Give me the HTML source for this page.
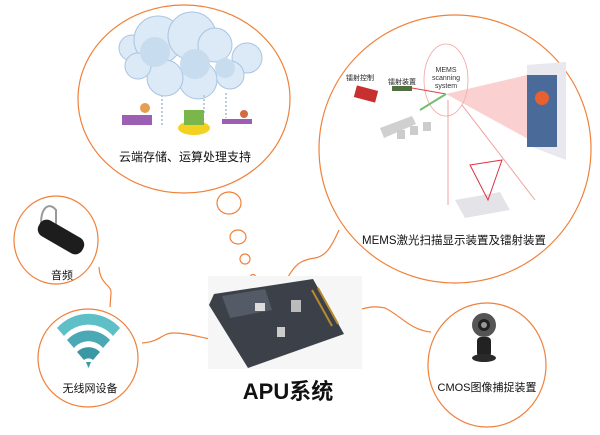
<!DOCTYPE html>
<html><head><meta charset="utf-8"><style>
html,body{margin:0;padding:0;background:#fff;}
body{width:600px;height:435px;position:relative;overflow:hidden;font-family:"Liberation Sans","Noto Sans CJK SC",sans-serif;}
.t{position:absolute;white-space:nowrap;transform:translateX(-50%);color:#111;}
</style></head><body>
<svg width="600" height="435" style="position:absolute;left:0;top:0">
<g fill="none" stroke="#f0813a" stroke-width="1.2">
<ellipse cx="184" cy="99" rx="106" ry="94"/>
<ellipse cx="455" cy="149" rx="136" ry="134"/>
<ellipse cx="229" cy="203" rx="12" ry="11"/>
<ellipse cx="238" cy="237" rx="8" ry="7"/>
<ellipse cx="245" cy="259" rx="5" ry="5"/>
<ellipse cx="253" cy="277" rx="2.5" ry="2.5"/>
<ellipse cx="56" cy="240" rx="42" ry="44"/>
<ellipse cx="88" cy="358" rx="50" ry="49"/>
<ellipse cx="487" cy="365" rx="59" ry="62"/>
<path d="M339 230 C330 250 325 256 315 258 C300 260 295 265 288 277"/>
<path d="M99 267 C100 285 112 285 111 293 L110 307"/>
<path d="M142 343 C160 342 162 333 173 333 C190 333 200 338 217 340"/>
<path d="M352 312 C370 306 375 306 385 308 C400 315 410 330 431 332"/>
</g>
<!-- cloud -->
<g fill="#dce9f6" stroke="#a9c4e2" stroke-width="1">
<circle cx="132" cy="48" r="13"/><circle cx="158" cy="40" r="24"/><circle cx="192" cy="36" r="24"/>
<circle cx="215" cy="45" r="17"/><circle cx="247" cy="58" r="15"/><circle cx="230" cy="75" r="14"/>
<circle cx="198" cy="80" r="19"/><circle cx="165" cy="78" r="18"/><circle cx="138" cy="66" r="13"/>
</g>
<g fill="#c8dcf0"><circle cx="155" cy="52" r="15"/><circle cx="195" cy="64" r="15"/><circle cx="225" cy="68" r="10"/></g>
<g stroke="#b8cde4" stroke-dasharray="2 2" stroke-width="2"><line x1="162" y1="95" x2="162" y2="125"/><line x1="204" y1="95" x2="204" y2="115"/><line x1="226" y1="93" x2="226" y2="118"/></g>
<rect x="122" y="115" width="30" height="10" fill="#9c5fb4"/><circle cx="145" cy="108" r="5" fill="#e4a050"/>
<ellipse cx="194" cy="128" rx="16" ry="7" fill="#f4d020"/><rect x="184" y="110" width="20" height="15" fill="#7ab64a"/>
<rect x="222" y="119" width="30" height="5" fill="#9c5fb4"/><circle cx="244" cy="114" r="4" fill="#d46a40"/>
<!-- MEMS -->
<ellipse cx="446" cy="80" rx="22" ry="36" fill="none" stroke="#f4a0a0" stroke-width="0.8"/>
<text x="446" y="72" font-size="7" text-anchor="middle" fill="#333">MEMS</text>
<text x="446" y="80" font-size="7" text-anchor="middle" fill="#333">scanning</text>
<text x="446" y="88" font-size="7" text-anchor="middle" fill="#333">system</text>
<text x="346" y="80" font-size="7" fill="#222">镭射控制</text>
<text x="388" y="84" font-size="7" fill="#222">镭射装置</text>
<polygon points="446,94 527,75 530,140" fill="#f6b0b0" opacity="0.6"/>
<polygon points="527,65 566,62 566,160 527,145" fill="#e8e8ee"/>
<rect x="527" y="75" width="30" height="72" fill="#4a6a9a"/>
<circle cx="542" cy="98" r="7" fill="#e86030"/>
<rect x="355" y="88" width="22" height="12" fill="#c83030" transform="rotate(15 366 94)"/>
<rect x="392" y="86" width="20" height="5" fill="#507040"/>
<line x1="412" y1="88" x2="446" y2="94" stroke="#e04040"/>
<line x1="420" y1="110" x2="446" y2="94" stroke="#70c070" stroke-width="2"/>
<polygon points="380,128 412,116 416,124 384,138" fill="#d0d0d0"/>
<rect x="397" y="130" width="8" height="9" fill="#ccc"/><rect x="410" y="126" width="8" height="9" fill="#ccc"/><rect x="423" y="122" width="8" height="9" fill="#ccc"/>
<line x1="448" y1="100" x2="448" y2="205" stroke="#f0a0a0"/>
<line x1="462" y1="105" x2="535" y2="200" stroke="#f0a0a0"/>
<polygon points="455,200 500,192 510,210 465,218" fill="#e4e4e8"/>
<polygon points="470,165 488,200 502,160" fill="none" stroke="#e03040"/>
<!-- earpiece -->
<path d="M42 232 C38 210 48 200 56 210 L56 232" fill="none" stroke="#999" stroke-width="2"/>
<rect x="36" y="228" width="50" height="18" rx="8" fill="#1d1d1d" transform="rotate(30 61 237)"/>
<!-- wifi -->
<g fill="#5fbfc6">
<path d="M57 328 A42 42 0 0 1 120 328 L113 336 A32 32 0 0 0 64 336Z"/>
<path d="M67 340 A29 29 0 0 1 110 340 L103 348 A19 19 0 0 0 74 348Z" fill="#4aa9b4"/>
<path d="M77 352 A16 16 0 0 1 100 352 L93 360 A7 7 0 0 0 84 360Z" fill="#3b97a4"/>
<polygon points="86,362 91,362 88.5,368" fill="#3b97a4"/>
</g>
<!-- camera -->
<circle cx="484" cy="325" r="12" fill="#555"/><circle cx="484" cy="325" r="6" fill="#222"/><circle cx="484" cy="325" r="3" fill="#999"/>
<rect x="477" y="337" width="14" height="20" rx="4" fill="#222"/>
<ellipse cx="484" cy="358" rx="12" ry="4" fill="#2a2a2a"/>
<!-- board -->
<rect x="208" y="276" width="154" height="93" fill="#f6f6f6"/>
<polygon points="214,294 313,279 344,334 248,368 209,305" fill="#3c4048"/>
<polygon points="222,296 265,289 272,310 230,318" fill="#545a66"/>
<rect x="291" y="300" width="10" height="12" fill="#bbb"/>
<rect x="255" y="303" width="10" height="8" fill="#ddd"/>
<rect x="277" y="327" width="8" height="10" fill="#ccc"/>
<line x1="312" y1="290" x2="332" y2="326" stroke="#b88a30" stroke-width="2"/>
<line x1="318" y1="288" x2="338" y2="324" stroke="#b88a30" stroke-width="2"/>
</svg>
<div class="t" style="left:185px;top:148px;font-size:12px;">云端存储、运算处理支持</div>
<div class="t" style="left:454px;top:232px;font-size:11.5px;">MEMS激光扫描显示装置及镭射装置</div>
<div class="t" style="left:62px;top:267px;font-size:11px;">音频</div>
<div class="t" style="left:90px;top:380px;font-size:11px;">无线网设备</div>
<div class="t" style="left:487px;top:379px;font-size:11px;">CMOS图像捕捉装置</div>
<div class="t" style="left:288px;top:374px;font-size:22px;font-weight:bold;">APU系统</div>
</body></html>
